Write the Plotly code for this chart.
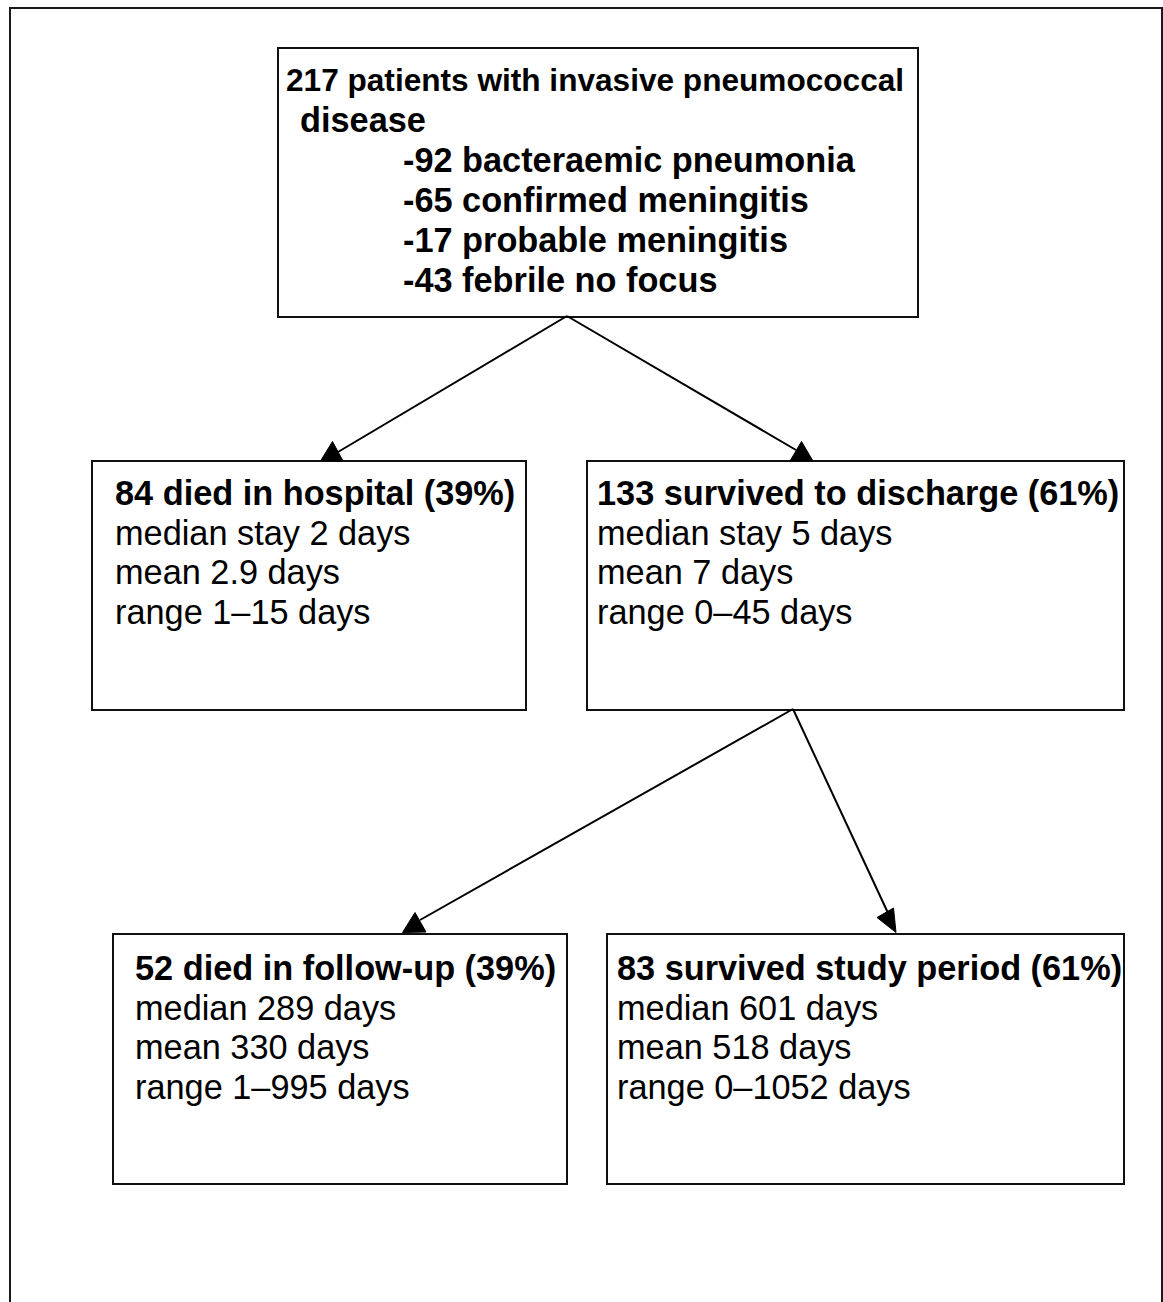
import plotly.graph_objects as go

# ---- data -------------------------------------------------------------
total_patients = 217
diagnosis_labels = ["bacteraemic pneumonia", "confirmed meningitis", "probable meningitis", "febrile no focus"]
diagnosis_counts = [92, 65, 17, 43]

outcome_labels = ["died in hospital", "survived to discharge", "died in follow-up", "survived study period"]
outcome_counts = [84, 133, 52, 83]
outcome_pct = [39, 61, 39, 61]
median_days = [2, 5, 289, 601]
mean_days = ["2.9", "7", "330", "518"]
range_lo = [1, 0, 1, 0]
range_hi = [15, 45, 995, 1052]
median_prefix = ["median stay", "median stay", "median", "median"]

# ---- layout geometry ----------------------------------------------------
W, H = 1163, 1302
FONT = "Liberation Sans, Arial, Helvetica, sans-serif"
FS = 34.3

top_box = (278, 48, 918, 317)
boxes = [(92, 461, 526, 710), (587, 461, 1124, 710),
         (113, 934, 567, 1184), (607, 934, 1124, 1184)]
text_x = [113, 595, 133, 615]
text_y0 = [493, 493, 968, 968]
line_gap = 39.5

fig = go.Figure()
fig.add_trace(go.Scatter(x=[0, W], y=[0, H], mode="markers",
                         marker=dict(opacity=0), hoverinfo="skip", showlegend=False))

shapes = []
# outer frame
shapes.append(dict(type="rect", x0=10, y0=8, x1=1162, y1=1320,
                   line=dict(color="#1a1a1a", width=2)))
for (x0, y0, x1, y1) in [top_box] + boxes:
    shapes.append(dict(type="rect", x0=x0, y0=y0, x1=x1, y1=y1,
                       line=dict(color="#111", width=2), fillcolor="white"))

# arrows: (start, end of shaft, triangle vertices)
arrows = [
    ((567, 316), (338, 452), [(320.5, 461), (343, 461), (332.5, 441.5)]),
    ((567, 316), (796, 450), [(790, 461), (813, 461), (801.5, 441.5)]),
    ((793, 709), (420, 920), [(402.5, 932.5), (426, 932), (415, 912.5)]),
    ((793, 709), (888, 913), [(877, 917.5), (893.5, 908), (896, 932.5)]),
]
for (s, e, tri) in arrows:
    shapes.append(dict(type="line", x0=s[0], y0=s[1], x1=e[0], y1=e[1],
                       line=dict(color="black", width=2)))
    p = "M {} {} L {} {} L {} {} Z".format(tri[0][0], tri[0][1], tri[1][0], tri[1][1], tri[2][0], tri[2][1])
    shapes.append(dict(type="path", path=p, fillcolor="black", line=dict(color="black", width=1)))

ann = []
def add_text(x, y, txt, size):
    ann.append(dict(x=x, y=y, xref="x", yref="y", text=txt, showarrow=False,
                    xanchor="left", yanchor="middle",
                    font=dict(family=FONT, size=size, color="black")))

# top box text
add_text(284, 80, "<b>%d patients with invasive pneumococcal</b>" % total_patients, 31.6)
add_text(298, 120, "<b>disease</b>", FS)
for i, (lab, c) in enumerate(zip(diagnosis_labels, diagnosis_counts)):
    add_text(401, 160 + 40 * i, "<b>-%d %s</b>" % (c, lab), FS)

for i in range(4):
    x, y = text_x[i], text_y0[i]
    add_text(x, y, "<b>%d %s (%d%%)</b>" % (outcome_counts[i], outcome_labels[i], outcome_pct[i]), FS)
    add_text(x, y + line_gap, "%s %d days" % (median_prefix[i], median_days[i]), FS)
    add_text(x, y + 2 * line_gap, "mean %s days" % mean_days[i], FS)
    add_text(x, y + 3 * line_gap, "range %d\u2013%d days" % (range_lo[i], range_hi[i]), FS)

fig.update_layout(
    width=W, height=H, margin=dict(l=0, r=0, t=0, b=0),
    paper_bgcolor="white", plot_bgcolor="white",
    xaxis=dict(range=[0, W], visible=False, fixedrange=True),
    yaxis=dict(range=[H, 0], visible=False, fixedrange=True),
    shapes=shapes, annotations=ann, showlegend=False,
)

fig.write_html("out.html", config={"displayModeBar": False},
               post_script="document.body.style.margin='0';document.body.style.overflow='hidden';")
